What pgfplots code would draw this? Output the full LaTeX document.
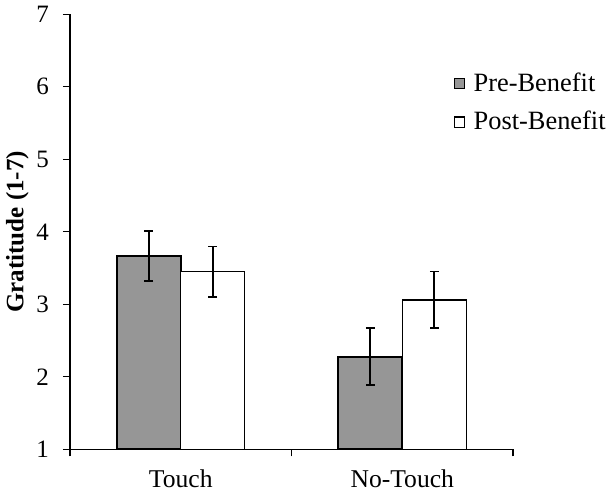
\documentclass[border=0pt]{standalone}
\usepackage{fontspec}
\setmainfont{Liberation Serif}
\usepackage{pgfplots}
\pgfplotsset{compat=1.18}
\definecolor{bargray}{RGB}{150,150,150}
\begin{document}
\begin{tikzpicture}
\useasboundingbox (-35pt,-22.35pt) rectangle (270pt,224.65pt);
\begin{axis}[
  scale only axis, width=221.5pt, height=217.5pt,
  at={(0,0)}, anchor=south west,
  xmin=-0.5, xmax=1.5, ymin=1, ymax=7,
  axis x line*=bottom, axis y line*=left,
  axis line style={line width=0.6pt},
  tick align=outside, major tick length=3.5pt,
  tick style={line width=0.6pt, black},
  xtick={0,1}, xticklabels={Touch,No-Touch},
  major x tick style={draw=none},
  extra x ticks={-0.5,0.5,1.5}, extra x tick labels={},
  extra x tick style={major x tick style={draw=black, line width=0.6pt}},
  ytick={1,2,3,4,5,6,7},
  /pgf/number format/assume math mode=true,
  yticklabel style={font=\fontsize{12.5}{14}\selectfont, xshift=-3.5pt},
  xticklabel style={font=\fontsize{12.8}{14}\selectfont, yshift=-3pt},
  ylabel={\textbf{Gratitude (1-7)}},
  ylabel style={font=\fontsize{12.5}{14}\selectfont},
  ylabel shift=-3pt,
  ybar, bar width=0.289,
  legend style={draw=none, fill=none, at={(0.852,0.885)}, anchor=north west,
    font=\fontsize{13.2}{15}\selectfont, row sep=4.5pt, legend cell align=left},
  legend image code/.code={\draw[#1, line width=0.6pt] (0pt,-2.6pt) rectangle (5.2pt,2.6pt);
    \path[draw=none, fill=none] (0pt,0pt) -- (7.6pt,0pt);},
]
\addplot[fill=bargray, draw=black, line width=1pt, bar shift=-0.1445,
  error bars/.cd, y dir=both, y explicit,
  error bar style={line width=1pt, black},
  error mark options={rotate=90, mark size=2.2pt, line width=1pt, black}]
  coordinates {(0,3.67) +- (0,0.345) (1,2.28) +- (0,0.39)};
\addlegendentry{Pre-Benefit}
\addplot[fill=white, draw=black, line width=0.6pt, bar shift=0.1445,
  error bars/.cd, y dir=both, y explicit,
  error bar style={line width=0.8pt, black},
  error mark options={rotate=90, mark size=2.2pt, line width=0.8pt, black}]
  coordinates {(0,3.45) +- (0,0.35) (1,3.06) +- (0,0.39)};
\addlegendentry{Post-Benefit}
\end{axis}
\end{tikzpicture}
\end{document}
